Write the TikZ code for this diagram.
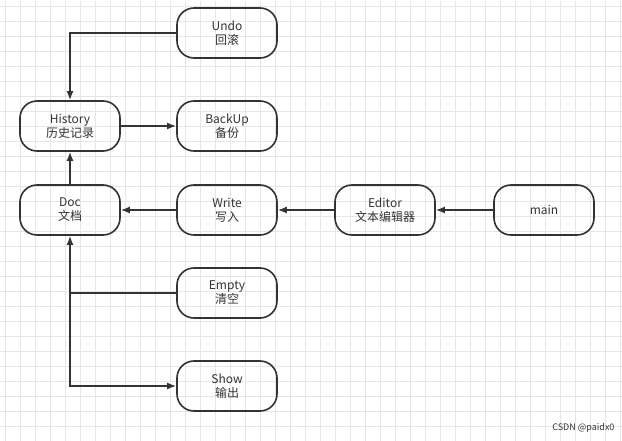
\documentclass[tikz,border=0pt]{standalone}
\usepackage{fontspec}
\setmainfont{Noto Sans CJK SC}
\usetikzlibrary{positioning}
\definecolor{ink}{HTML}{333333}
\definecolor{gridc}{HTML}{E6E6E6}
\tikzset{
  box/.style={draw=ink, line width=1.6pt, rounded corners=17pt, minimum width=100pt,
    minimum height=50pt, text=ink, align=center, font=\fontsize{12pt}{14pt}\selectfont},
  link/.style={draw=ink, line width=1.6pt, -{Latex[length=9pt,width=7pt]}},
  bare/.style={draw=ink, line width=1.6pt}
}
\usetikzlibrary{arrows.meta}
\begin{document}
\begin{tikzpicture}[x=1pt,y=-1pt]
  \useasboundingbox (0,0) rectangle (622,441);
  \fill[white] (0,0) rectangle (622,441);
  \draw[gridc, line width=0.5pt, step=15pt, shift={(5pt,-6pt)}] (-5,-5) grid (620,440);
  % nodes
  \node[box] (undo) at (227,33) {Undo\\回滚};
  \node[box] (hist) at (70,126) {History\\历史记录};
  \node[box] (back) at (227,126) {BackUp\\备份};
  \node[box] (doc) at (70,210) {Doc\\文档};
  \node[box] (write) at (227,210) {Write\\写入};
  \node[box] (edit) at (385,210) {Editor\\文本编辑器};
  \node[box] (main) at (544,210) {main};
  \node[box] (empty) at (227,293) {Empty\\清空};
  \node[box] (show) at (227,386) {Show\\输出};
  \coordinate (cu) at (70,33);
  \coordinate (ce) at (70,293);
  \coordinate (cs) at (70,386);
  % connectors
  \draw[link] (undo.west) -- (cu) -- (hist.north);
  \draw[link] (hist) -- (back);
  \draw[link] (doc) -- (hist);
  \draw[link] (write) -- (doc);
  \draw[link] (edit) -- (write);
  \draw[link] (main) -- (edit);
  \draw[link] (empty.west) -- (ce) -- (doc.south);
  \draw[link] (ce) -- (cs) -- (show.west);
  \node[text=ink, font=\fontsize{9pt}{10pt}\selectfont, anchor=south east] (mark) at (618,436) {CSDN @paidx0};
\end{tikzpicture}
\end{document}
